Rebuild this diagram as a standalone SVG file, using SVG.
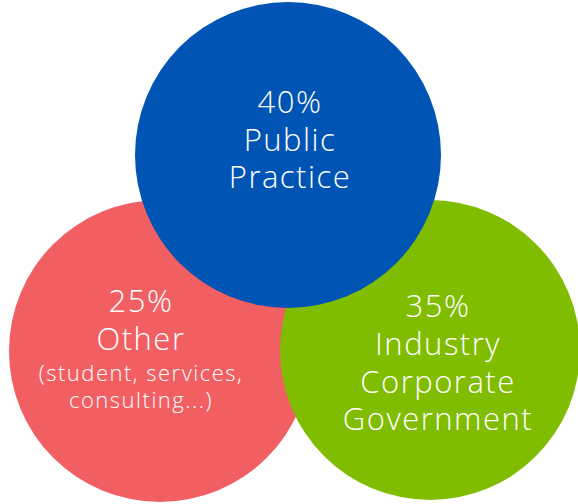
<svg xmlns="http://www.w3.org/2000/svg" width="578" height="504" viewBox="0 0 578 504">
<style>
text{font-family:"Open Sans","Liberation Sans",sans-serif;font-weight:300;fill:#fff;text-anchor:middle}
.big{font-size:31px;letter-spacing:1.5px}
.small{font-size:22px;letter-spacing:1.5px}
</style>
<rect width="578" height="504" fill="#fff"/>
<g id="other">
<circle cx="160" cy="351" r="151" fill="#F15F63"/>
<text class="big" x="141" y="312">25%</text>
<text class="big" x="141" y="350">Other</text>
<text class="small" x="141" y="381">(student, services,</text>
<text class="small" x="141" y="408">consulting...)</text>
</g>
<g id="industry">
<circle cx="430" cy="350" r="150" fill="#80BC00"/>
<text class="big" x="438" y="317">35%</text>
<text class="big" x="438" y="355">Industry</text>
<text class="big" x="438" y="393">Corporate</text>
<text class="big" x="438" y="430">Government</text>
</g>
<g id="public">
<circle cx="288" cy="155" r="153" fill="#0054B4"/>
<text class="big" x="290" y="113">40%</text>
<text class="big" x="290" y="151">Public</text>
<text class="big" x="290" y="188">Practice</text>
</g>
<g id="connectors"/>
</svg>
